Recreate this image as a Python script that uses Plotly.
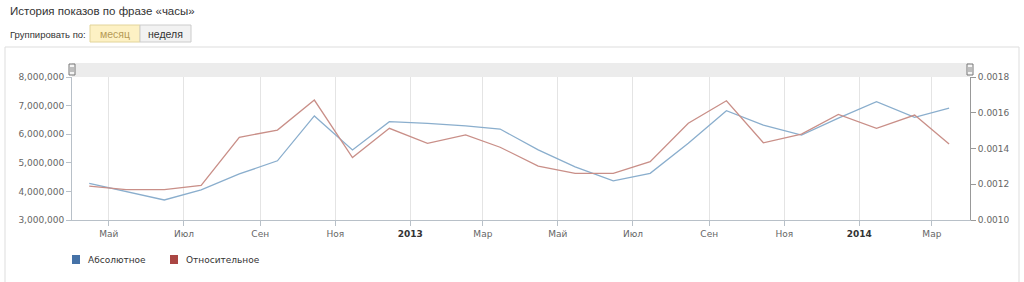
import plotly.graph_objects as go

# ---- data ----
months = ["2012-04-15", "2012-05-15", "2012-06-15", "2012-07-15", "2012-08-15", "2012-09-15",
          "2012-10-15", "2012-11-15", "2012-12-15", "2013-01-15", "2013-02-15", "2013-03-15",
          "2013-04-15", "2013-05-15", "2013-06-15", "2013-07-15", "2013-08-15", "2013-09-15",
          "2013-10-15", "2013-11-15", "2013-12-15", "2014-01-15", "2014-02-15", "2014-03-15"]
absolute = [4280000, 3990000, 3700000, 4050000, 4610000, 5070000, 6640000, 5450000,
            6440000, 6380000, 6290000, 6180000, 5450000, 4860000, 4370000, 4630000,
            5680000, 6820000, 6320000, 5970000, 6560000, 7140000, 6590000, 6910000]
relative = [0.00119, 0.00117, 0.00117, 0.001194, 0.001463, 0.001503, 0.001671, 0.001349,
            0.001513, 0.001429, 0.001476, 0.001407, 0.001302, 0.001261, 0.001261, 0.001326,
            0.001541, 0.001667, 0.001432, 0.001481, 0.001591, 0.001513, 0.001587, 0.001425]
tick_dates = ["2012-05-01", "2012-07-01", "2012-09-01", "2012-11-01", "2013-01-01", "2013-03-01",
              "2013-05-01", "2013-07-01", "2013-09-01", "2013-11-01", "2014-01-01", "2014-03-01"]
tick_labels = ["Май", "Июл", "Сен", "Ноя", "<b><span style='color:#333'>2013</span></b>", "Мар",
               "Май", "Июл", "Сен", "Ноя", "<b><span style='color:#333'>2014</span></b>", "Мар"]
left_ticks = [3000000, 4000000, 5000000, 6000000, 7000000, 8000000]
right_ticks = [0.0010, 0.0012, 0.0014, 0.0016, 0.0018]
series_names = ["Абсолютное", "Относительное"]
title_text = "История показов по фразе «часы»"

# ---- layout geometry (pixels) ----
W, H = 1024, 282
PL, PR, PT, PB = 72, 970, 77, 220

def px(x):
    return (x - PL) / (PR - PL)

def py(y):
    return (PB - y) / (PB - PT)

BLUE_LINE = "#8aaecd"
RED_LINE = "#c98f88"
AXIS_COL = "#b8c0c8"
LABEL_FONT = dict(family="DejaVu Sans", size=9, color="#666666")

fig = go.Figure()
fig.add_trace(go.Scatter(x=months, y=absolute, mode="lines", name=series_names[0],
                         line=dict(color=BLUE_LINE, width=1.3), yaxis="y", showlegend=False))
fig.add_trace(go.Scatter(x=months, y=relative, mode="lines", name=series_names[1],
                         line=dict(color=RED_LINE, width=1.3), yaxis="y2", showlegend=False))

shapes = []
annotations = []

# outer container border
shapes.append(dict(type="rect", xref="paper", yref="paper", x0=px(5), x1=px(1019), y0=py(300), y1=py(47),
                   line=dict(color="#dddddd", width=1), fillcolor="rgba(0,0,0,0)", layer="below"))
# navigator bar on top
shapes.append(dict(type="rect", xref="paper", yref="paper", x0=0, x1=1, y0=py(77), y1=py(63),
                   line=dict(width=0), fillcolor="#ececec", layer="below"))
# handles
for hx in (PL, PR):
    shapes.append(dict(type="rect", xref="paper", yref="paper", x0=px(hx - 3), x1=px(hx + 3),
                       y0=py(75), y1=py(64), line=dict(color="#777777", width=1), fillcolor="#f4f4f4"))
    shapes.append(dict(type="line", xref="paper", yref="paper", x0=px(hx - 1), x1=px(hx - 1),
                       y0=py(72), y1=py(67), line=dict(color="#888888", width=1)))
    shapes.append(dict(type="line", xref="paper", yref="paper", x0=px(hx + 1), x1=px(hx + 1),
                       y0=py(72), y1=py(67), line=dict(color="#888888", width=1)))

# title & grouping controls
annotations.append(dict(text=title_text, xref="paper", yref="paper", x=px(8), y=py(11),
                        xanchor="left", yanchor="middle", showarrow=False,
                        font=dict(family="Liberation Sans", size=11.5, color="#333333")))
annotations.append(dict(text="Группировать по:", xref="paper", yref="paper", x=px(8), y=py(34),
                        xanchor="left", yanchor="middle", showarrow=False,
                        font=dict(family="Liberation Sans", size=9.5, color="#333333")))
shapes.append(dict(type="rect", xref="paper", yref="paper", x0=px(90), x1=px(140), y0=py(42), y1=py(25),
                   line=dict(color="#e2d49a", width=1), fillcolor="#fdf1c4"))
shapes.append(dict(type="rect", xref="paper", yref="paper", x0=px(140), x1=px(191), y0=py(42), y1=py(25),
                   line=dict(color="#cccccc", width=1), fillcolor="#f2f2f2"))
annotations.append(dict(text="месяц", xref="paper", yref="paper", x=px(115), y=py(33.5),
                        xanchor="center", yanchor="middle", showarrow=False,
                        font=dict(family="Liberation Sans", size=10.5, color="#b59a55")))
annotations.append(dict(text="неделя", xref="paper", yref="paper", x=px(165.5), y=py(33.5),
                        xanchor="center", yanchor="middle", showarrow=False,
                        font=dict(family="Liberation Sans", size=10.5, color="#333333")))

# legend (manual)
legend_items = [(series_names[0], "#4572a7", 72), (series_names[1], "#aa4643", 170)]
for name, col, lx in legend_items:
    shapes.append(dict(type="rect", xref="paper", yref="paper", x0=px(lx), x1=px(lx + 8),
                       y0=py(264), y1=py(255), line=dict(width=0), fillcolor=col))
    annotations.append(dict(text=name, xref="paper", yref="paper", x=px(lx + 14), y=py(259.5),
                            xanchor="left", yanchor="middle", showarrow=False,
                            font=dict(family="DejaVu Sans", size=9, color="#333333")))

fig.update_layout(
    width=W, height=H, autosize=False,
    margin=dict(l=PL, r=W - PR, t=PT, b=H - PB, pad=0),
    paper_bgcolor="white", plot_bgcolor="white",
    showlegend=False,
    xaxis=dict(type="date", range=["2012-04-01", "2014-04-01"], tickvals=tick_dates, ticktext=tick_labels,
               showgrid=True, gridcolor="#e4e4e4", gridwidth=1, zeroline=False,
               showline=True, linecolor=AXIS_COL, linewidth=1,
               ticks="outside", ticklen=5, tickcolor=AXIS_COL, tickfont=LABEL_FONT, fixedrange=True),
    yaxis=dict(range=[3000000, 8000000], tickvals=left_ticks, tickformat=",", showgrid=False,
               zeroline=False, showline=True, linecolor=AXIS_COL, linewidth=1,
               ticks="outside", ticklen=5, tickcolor=AXIS_COL, tickfont=LABEL_FONT, fixedrange=True),
    yaxis2=dict(range=[0.0010, 0.0018], tickvals=right_ticks, tickformat=".4f", overlaying="y",
                side="right", showgrid=False, zeroline=False, showline=True, linecolor="#999999",
                linewidth=1, ticks="outside", ticklen=5, tickcolor="#999999", tickfont=LABEL_FONT,
                fixedrange=True),
    shapes=shapes, annotations=annotations,
)

fig.write_html("out.html", config={"displayModeBar": False})
